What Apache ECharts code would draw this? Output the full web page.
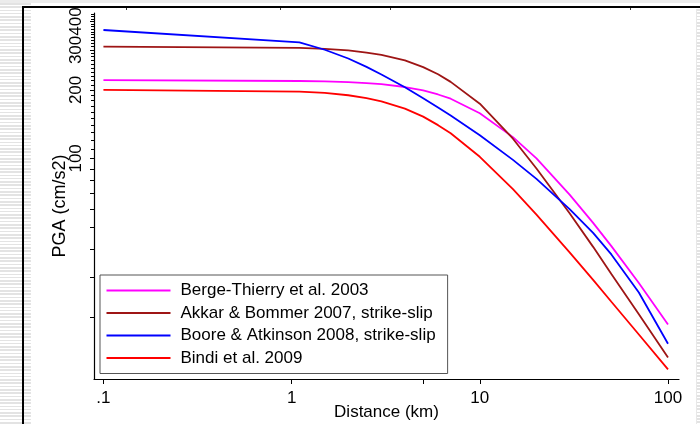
<!DOCTYPE html>
<html>
<head>
<meta charset="utf-8">
<script src="https://cdn.jsdelivr.net/npm/echarts@6/dist/echarts.min.js"></script>
<style>
  html, body { margin: 0; padding: 0; background: #fff; }
  #wrap { position: relative; width: 700px; height: 424px; overflow: hidden; background: #fff; }
  .deco { position: absolute; }
  #chart { position: absolute; left: 0; top: 0; width: 700px; height: 424px; z-index: 2; }
</style>
</head>
<body>
<div id="wrap">
  <div class="deco" style="left:0;top:0;width:700px;height:3px;background:#ececec;"></div>
  <div class="deco" style="left:0;top:3px;width:31px;height:421px;background:repeating-linear-gradient(to bottom,#e3e3e3 0px,#e3e3e3 1.6px,#ffffff 1.6px,#ffffff 3.3px);"></div>
  <div class="deco" style="left:697px;top:9px;width:3px;height:415px;background:repeating-linear-gradient(to bottom,#e3e3e3 0px,#e3e3e3 1.6px,#ffffff 1.6px,#ffffff 3.3px);"></div>
  <div class="deco" style="left:696px;top:9px;width:1px;height:415px;background:#e8e8e8;"></div>
  <div class="deco" style="left:22px;top:6px;width:678px;height:2px;background:#000;"></div>
  <div class="deco" style="left:22px;top:6px;width:2px;height:418px;background:#000;"></div>
  <div class="deco" style="left:126px;top:8px;width:1px;height:2px;background:#333;"></div>
  <div class="deco" style="left:280px;top:8px;width:1px;height:2px;background:#333;"></div>
  <div class="deco" style="left:390px;top:8px;width:1px;height:2px;background:#333;"></div>
  <div class="deco" style="left:630px;top:8px;width:1px;height:2px;background:#333;"></div>
  <div id="chart"></div>
</div>
<script>
// Distances (km)
const distances = [0.1, 1.1, 1.5, 2, 2.5, 3, 4, 5, 6, 7, 10, 15, 20, 30, 40, 50, 70, 100];
// PGA (cm/s2) per model
const bergeThierry = [221, 219, 218, 216.5, 214.5, 212, 206, 199, 191, 183, 158, 124, 100, 69.3, 52, 41.1, 28.3, 18.6];
const akkarBommer  = [310, 306, 303, 298.5, 292, 285.5, 270, 252, 234.5, 217, 174, 122, 90.2, 57.3, 40.8, 31.0, 20.6, 13.3];
const booreAtkinson = [367, 324, 300.5, 275, 252.5, 234, 205.5, 184, 167.5, 154.5, 126.5, 98.5, 81.2, 59.8, 47, 37.8, 25.7, 15.3];
const bindi = [200, 196.6, 194, 189.5, 184, 178, 165.5, 152.6, 140, 129, 101.6, 73.2, 56.6, 38.6, 29.2, 23.4, 16.8, 11.8];

const seriesNames = [
  'Berge-Thierry et al. 2003',
  'Akkar & Bommer 2007, strike-slip',
  'Boore & Atkinson 2008, strike-slip',
  'Bindi et al. 2009'
];
const seriesValues = [bergeThierry, akkarBommer, booreAtkinson, bindi];
const seriesColors = ['#ff00ff', '#9e1515', '#0000ff', '#ff0000'];

// Axis ticks / labels
const xTickLabels = [0.1, 1, 10, 100];
const xTicks = [0.1, 1, 5, 10, 100];
const yTickLabels = [100, 200, 300, 400];
const yMajorTicks = [20, 30, 40, 50, 60, 70, 80, 90, 100, 200, 300, 400];
const yMinorTicks = [110,120,130,140,150,160,170,180,190,210,220,230,240,250,260,270,280,290,310,320,330,340,350,360,370,380,390,410,420,430];

const FONT = "'Liberation Sans', Arial, sans-serif";
const FS = 17;
const xMin = 0.0891, xMax = 114.4, yMin = 10.7, yMax = 436;

const chart = echarts.init(document.getElementById('chart'), null, {renderer: 'canvas'});
const fmtX = v => {
  const r = Math.round(v * 1000) / 1000;
  return r === 0.1 ? '.1' : String(r);
};
chart.setOption({
  animation: false,
  backgroundColor: 'transparent',
  textStyle: {fontFamily: FONT},
  grid: {left: 94, right: 21, top: 13, bottom: 45, containLabel: false, outerBoundsMode: 'none'},
  xAxis: {
    type: 'log', logBase: 10, min: xMin, max: xMax,
    name: 'Distance (km)', nameLocation: 'middle', nameGap: 24.5, nameMoveOverlap: false,
    nameTextStyle: {fontSize: FS, color: '#000', fontFamily: FONT},
    axisLine: {lineStyle: {color: '#000', width: 1.2}},
    axisTick: {show: true, inside: false, length: 5, lineStyle: {color: '#000'}, customValues: xTicks},
    axisLabel: {fontSize: FS, color: '#000', fontFamily: FONT, margin: 11, customValues: xTickLabels, formatter: fmtX,
      hideOverlap: false, showMinLabel: true, showMaxLabel: true},
    splitLine: {show: false}, minorTick: {show: false}
  },
  yAxis: [{
    type: 'log', logBase: 10, min: yMin, max: yMax, position: 'left',
    name: 'PGA (cm/s2)', nameLocation: 'middle', nameGap: 25, nameRotate: 90, nameMoveOverlap: false,
    nameTextStyle: {fontSize: 18, color: '#000', fontFamily: FONT, padding: [0, 20, 0, 0]},
    axisLine: {show: true, lineStyle: {color: '#000', width: 1.2}},
    axisTick: {show: true, inside: false, length: 4, lineStyle: {color: '#000'}, customValues: yMajorTicks},
    axisLabel: {fontSize: FS, color: '#000', fontFamily: FONT, rotate: 90, margin: 9, customValues: yTickLabels,
      hideOverlap: false, showMinLabel: true, showMaxLabel: true,
      formatter: v => String(Math.round(v))},
    splitLine: {show: false}, minorTick: {show: false}
  }, {
    type: 'log', logBase: 10, min: yMin, max: yMax, position: 'left', offset: 0,
    axisLine: {show: false},
    axisTick: {show: true, inside: false, length: 3, lineStyle: {color: '#000'}, customValues: yMinorTicks},
    axisLabel: {show: false},
    splitLine: {show: false}, minorTick: {show: false}
  }],
  legend: {
    orient: 'vertical', left: 100, top: 275,
    itemWidth: 64, itemHeight: 2, icon: 'rect', itemGap: 5.5,
    padding: [7, 12, 7, 6.5],
    borderColor: '#555', borderWidth: 1, backgroundColor: '#fff',
    textStyle: {fontSize: FS, color: '#000', fontFamily: FONT, padding: [0, 0, 0, 5]},
    data: seriesNames
  },
  series: seriesNames.map((name, i) => ({
    name, type: 'line', xAxisIndex: 0, yAxisIndex: 0,
    symbol: 'none', smooth: false, clip: true,
    lineStyle: {color: seriesColors[i], width: 1.8},
    itemStyle: {color: seriesColors[i]},
    data: distances.map((d, j) => [d, seriesValues[i][j]])
  }))
});
</script>
</body>
</html>
